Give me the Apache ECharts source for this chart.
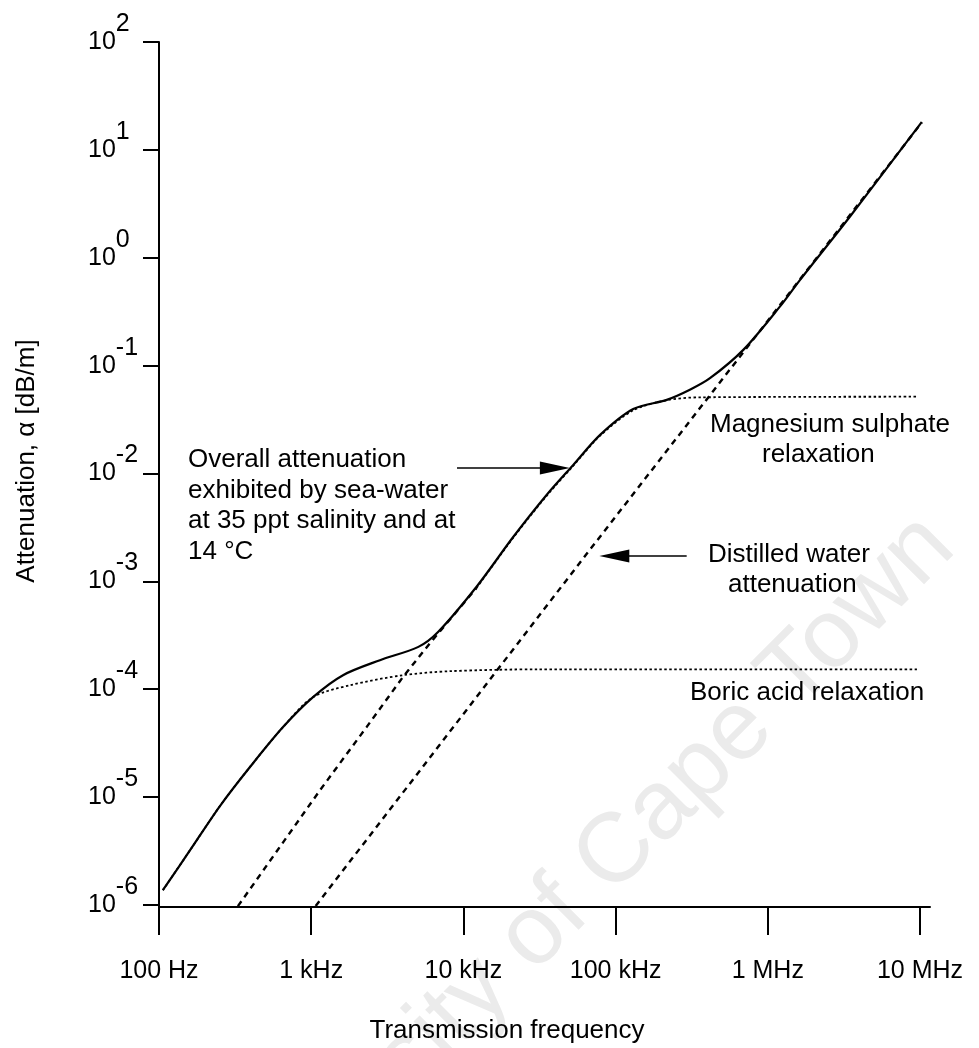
<!DOCTYPE html>
<html>
<head>
<meta charset="utf-8">
<title>Sea-water attenuation</title>
<script src="https://cdn.jsdelivr.net/npm/echarts@6/dist/echarts.min.js"></script>
<style>
  html, body { margin: 0; padding: 0; background: #fff; }
  #main { width: 979px; height: 1048px; }
</style>
</head>
<body>
<div id="main"></div>
<script>
// tick positions / labels
var xTickValues = [1e2, 1e3, 1e4, 1e5, 1e6, 1e7];
var xTickLabels = ["100 Hz", "1 kHz", "10 kHz", "100 kHz", "1 MHz", "10 MHz"];
var yTickValues = [1e-6, 1e-5, 1e-4, 1e-3, 1e-2, 1e-1, 1e0, 1e1, 1e2];

// overall attenuation, sea-water 35 ppt, 14 C  (Hz, dB/m)
var overallFreq = [106, 160, 252, 396, 653, 1028, 1618, 2830, 5060, 6840, 12200, 21300, 35200, 52700, 79100, 130600, 216800, 307600, 416900, 690200, 1.20e6, 1.63e6, 3.47e6, 1.026e7];
var overallAtt = [1.37e-6, 3.22e-6, 8.3e-6, 1.90e-5, 4.46e-5, 8.45e-5, 1.35e-4, 1.86e-4, 2.47e-4, 3.41e-4, 8.91e-4, 2.59e-3, 6.32e-3, 0.0120, 0.0228, 0.0396, 0.0481, 0.0597, 0.0764, 0.140, 0.352, 0.624, 2.41, 18.1];

// boric acid relaxation
var boricFreq = [106, 160, 252, 396, 653, 1028, 1800, 4010, 8170, 31600, 9.55e6];
var boricAtt = [1.37e-6, 3.22e-6, 8.3e-6, 1.90e-5, 4.46e-5, 8.45e-5, 1.09e-4, 1.35e-4, 1.47e-4, 1.53e-4, 1.53e-4];

// magnesium sulphate relaxation
var mgFreq = [330, 1143, 2317, 4010, 6040, 12200, 21300, 35200, 52700, 79100, 130600, 216800, 354800, 9.55e6];
var mgAtt = [9.75e-7, 1.16e-5, 4.48e-5, 1.30e-4, 2.68e-4, 8.7e-4, 2.55e-3, 6.2e-3, 0.0118, 0.0224, 0.0385, 0.0478, 0.0508, 0.0515];

// distilled water
var waterFreq = [1070, 64600, 1.03e7];
var waterAtt = [9.8e-7, 1.80e-3, 18.0];

// annotation arrows [tail, head] in data units
var overallArrow = [[9080, 0.01125], [39900, 0.01125]];
var waterArrow = [[293100, 1.72e-3], [98100, 1.72e-3]];

var FONT = '"Liberation Sans", Arial, Helvetica, sans-serif';

function zip(a, b) {
  return a.map(function (v, i) { return [v, b[i]]; });
}

function arrowLine(pts) {
  return {
    silent: true,
    animation: false,
    symbol: ["none", "triangle"],
    symbolSize: 14,
    label: { show: false },
    lineStyle: { color: "#000", width: 1.6, type: "solid" },
    emphasis: { disabled: true },
    data: [[
      { coord: pts[0], symbol: "none" },
      { coord: pts[1], symbol: "triangle", symbolSize: [13, 30] },
    ]],
  };
}

var dashed = { color: "#000", width: 2.4, type: [6, 5] };
var dotted = { color: "#000", width: 1.8, type: [2.5, 2.5] };

var chart = echarts.init(document.getElementById("main"));
chart.setOption({
  animation: false,
  backgroundColor: "#fff",
  grid: { left: 159, top: 42, right: 49, bottom: 141, outerBoundsMode: "none" },
  xAxis: {
    type: "log",
    logBase: 10,
    min: 100,
    max: 1.1634e7,
    splitLine: { show: false },
    axisLine: { lineStyle: { color: "#000", width: 2 } },
    axisTick: { customValues: xTickValues, length: 28, lineStyle: { color: "#000", width: 2 } },
    axisLabel: {
      customValues: xTickValues,
      margin: 52,
      color: "#000",
      fontSize: 25,
      fontFamily: FONT,
      formatter: function (v) {
        return xTickLabels[Math.round(Math.log10(v)) - 2];
      },
    },
  },
  yAxis: {
    type: "log",
    logBase: 10,
    min: 9.58e-7,
    max: 100,
    splitLine: { show: false },
    axisLine: { lineStyle: { color: "#000", width: 2 } },
    axisTick: { customValues: yTickValues, length: 16, lineStyle: { color: "#000", width: 2 } },
    axisLabel: {
      customValues: yTickValues,
      align: "left",
      margin: 71,
      formatter: function (v) {
        return "{b|10}{s|" + Math.round(Math.log10(v)) + "}";
      },
      rich: {
        b: { fontSize: 25, fontFamily: FONT, color: "#000", verticalAlign: "middle" },
        s: { fontSize: 25, fontFamily: FONT, color: "#000", padding: [0, 0, 36, 0], verticalAlign: "middle" },
      },
    },
  },
  series: [
    {
      name: "Boric acid relaxation",
      type: "line",
      data: zip(boricFreq, boricAtt),
      symbol: "none",
      smooth: 0.3,
      lineStyle: dotted,
    },
    {
      name: "Magnesium sulphate relaxation (low)",
      type: "line",
      data: zip(mgFreq, mgAtt).slice(0, 6),
      symbol: "none",
      lineStyle: dashed,
    },
    {
      name: "Magnesium sulphate relaxation",
      type: "line",
      data: zip(mgFreq, mgAtt).slice(5),
      symbol: "none",
      smooth: 0.3,
      lineStyle: dotted,
    },
    {
      name: "Distilled water attenuation",
      type: "line",
      data: zip(waterFreq, waterAtt),
      symbol: "none",
      lineStyle: dashed,
      markLine: arrowLine(waterArrow),
    },
    {
      name: "Overall attenuation",
      type: "line",
      data: zip(overallFreq, overallAtt),
      symbol: "none",
      smooth: 0.3,
      lineStyle: { color: "#000", width: 2.2 },
      markLine: arrowLine(overallArrow),
    },
  ],
  graphic: [
    // faint scan watermark
    {
      type: "text", x: 565, y: 905, rotation: Math.PI / 4, z: -10, silent: true,
      style: { text: "University of Cape Town", font: "98px " + FONT, fill: "#ebebeb",
        align: "center", verticalAlign: "middle", textAlign: "center", textVerticalAlign: "middle" },
    },
    {
      type: "text", x: 188, y: 444.75,
      style: { text: "Overall attenuation\nexhibited by sea-water\nat 35 ppt salinity and at\n14 °C",
        font: "26px " + FONT, fill: "#000", lineHeight: 30.5,
        align: "left", verticalAlign: "top", textAlign: "left", textVerticalAlign: "top" },
    },
    {
      type: "text", x: 710, y: 425,
      style: { text: "Magnesium sulphate", font: "26px " + FONT, fill: "#000",
        align: "left", verticalAlign: "middle", textAlign: "left", textVerticalAlign: "middle" },
    },
    {
      type: "text", x: 762, y: 455,
      style: { text: "relaxation", font: "26px " + FONT, fill: "#000",
        align: "left", verticalAlign: "middle", textAlign: "left", textVerticalAlign: "middle" },
    },
    {
      type: "text", x: 708, y: 555,
      style: { text: "Distilled water", font: "26px " + FONT, fill: "#000",
        align: "left", verticalAlign: "middle", textAlign: "left", textVerticalAlign: "middle" },
    },
    {
      type: "text", x: 728, y: 585,
      style: { text: "attenuation", font: "26px " + FONT, fill: "#000",
        align: "left", verticalAlign: "middle", textAlign: "left", textVerticalAlign: "middle" },
    },
    {
      type: "text", x: 690, y: 693,
      style: { text: "Boric acid relaxation", font: "26px " + FONT, fill: "#000",
        align: "left", verticalAlign: "middle", textAlign: "left", textVerticalAlign: "middle" },
    },
    // axis titles
    {
      type: "text", x: 507, y: 1031,
      style: { text: "Transmission frequency", font: "26px " + FONT, fill: "#000",
        align: "center", verticalAlign: "middle", textAlign: "center", textVerticalAlign: "middle" },
    },
    {
      type: "text", x: 27, y: 461, rotation: Math.PI / 2,
      style: { text: "Attenuation, α [dB/m]", font: "26px " + FONT, fill: "#000",
        align: "center", verticalAlign: "middle", textAlign: "center", textVerticalAlign: "middle" },
    },
  ],
});
</script>
</body>
</html>
